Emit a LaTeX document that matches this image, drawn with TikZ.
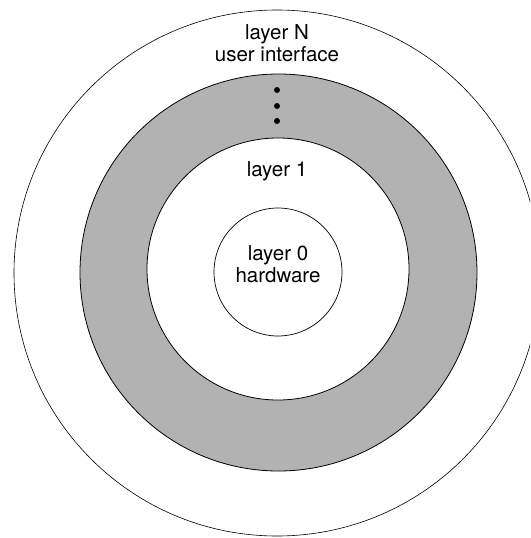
\documentclass[tikz,border=0pt]{standalone}
\usepackage{fontspec}
\setmainfont{TeX Gyre Heros}
\begin{document}
\begin{tikzpicture}[x=1pt,y=-1pt]
            \useasboundingbox (0,0) rectangle (530,538);
            \clip (0,0) rectangle (530,538);
            \draw[line width=.6pt] (277,273) circle[radius=263];
            \draw[fill=black!30,line width=.8pt] (278.5,272.5) circle[radius=198.5];
            \draw[fill=white,line width=.8pt] (278,269) circle[radius=131];
            \draw[line width=.7pt] (278,272) circle[radius=64];
            \node(n)[align=center,font=\fontsize{20.5}{22}\selectfont] at (277,43){layer N\\user interface};
            \foreach \y [count=\i] in {90,106,121}
                \node(d\i)[circle,fill,inner sep=0pt,minimum size=6pt] at (277,\y){};
            \node(one)[font=\fontsize{20.5}{22}\selectfont] at (277,171){layer 1};
            \node(zero)[align=center,font=\fontsize{20.5}{22}\selectfont] at (278,264){layer 0\\hardware};
        \end{tikzpicture}
\end{document}
